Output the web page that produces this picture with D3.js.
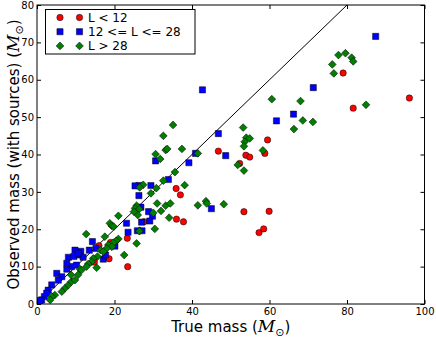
<html>
<head>
<style>
  body { margin: 0; background: #fff; }
  text { font-family: "DejaVu Sans", sans-serif; }
</style>
</head>
<body>
<svg id="chart" width="436" height="338"></svg>
<script src="https://cdn.jsdelivr.net/npm/d3@7"></script>
<script>
// series: [true mass, observed mass]
const lowL = [
  [96.1,55.1],[81.6,52.4],[79.0,61.8],[59.5,43.9],[58.8,40.3],[53.9,39.8],[54.9,39.3],
  [52.3,37.6],[53.4,24.7],[59.9,24.8],[57.3,19.1],[58.5,20.1],[46.8,40.9],[35.9,30.9],
  [37.0,29.2],[36.0,22.7],[37.8,22.0],[27.6,22.0],[23.3,17.6],[23.4,10.0],[19.0,16.5],
  [16.0,15.6],[14.8,11.2],[18.6,12.1]
]
const midL = [
  [87.4,71.6],[71.3,57.9],[66.2,50.8],[61.8,49.0],[48.7,39.7],[42.7,57.3],[46.8,45.6],
  [45.0,25.5],[40.9,40.3],[30.6,38.3],[39.2,37.8],[33.9,33.3],[29.4,31.7],[28.8,24.7],
  [29.8,23.5],[26.3,29.0],[26.8,25.9],[29.1,22.2],[27.0,21.9],[27.1,19.6],[26.3,31.7],
  [25.3,31.6],[23.1,21.6],[25.9,19.6],[23.5,19.2],[14.3,16.7],[20.1,15.5],[15.2,14.9],
  [13.5,14.4],[11.3,14.1],[9.8,14.4],[8.1,12.5],[9.5,12.7],[10.9,13.1],[11.9,12.5],
  [17.1,12.0],[17.7,13.1],[8.9,10.0],[10.2,10.4],[7.7,9.3],[7.7,10.9],[5.1,8.2],
  [6.4,7.3],[5.5,6.4],[3.8,5.1],[2.9,3.7],[2.5,2.9],[1.9,2.0],[1.2,1.1],[0.8,0.9],
  [10.6,13.6]
]
const highL = [
  [77.8,66.6],[79.6,67.1],[81.2,65.9],[81.6,64.9],[76.2,64.1],[76.6,61.7],[84.9,53.3],
  [68.0,54.3],[68.6,49.1],[71.2,48.7],[66.3,46.8],[60.6,54.8],[53.2,47.2],[54.0,44.5],
  [54.9,44.3],[53.6,43.4],[53.4,42.2],[58.3,41.1],[51.8,37.2],[53.4,35.7],[48.2,26.7],
  [35.1,47.9],[32.6,45.0],[30.6,40.1],[31.8,38.8],[33.2,41.2],[33.6,41.5],[37.4,41.5],
  [41.5,40.3],[35.6,35.3],[32.6,33.0],[30.8,31.0],[38.1,31.8],[29.4,29.6],[31.0,26.9],
  [33.2,26.3],[34.4,26.9],[32.0,24.9],[41.5,26.4],[43.6,27.5],[43.8,26.9],[34.1,23.1],
  [27.4,31.9],[26.5,31.2],[30.0,24.4],[30.4,20.1],[26.5,19.6],[25.7,26.3],[25.3,25.6],
  [26.4,25.4],[21.0,23.6],[26.0,23.8],[25.0,24.7],[18.8,21.6],[19.3,20.9],[19.8,20.7],
  [26.4,19.5],[25.7,16.2],[12.7,18.7],[17.5,18.0],[21.0,17.4],[20.4,16.9],[19.7,16.4],
  [18.4,15.8],[19.3,15.3],[18.0,14.9],[16.4,14.4],[17.1,14.0],[15.6,12.7],[14.5,12.2],
  [14.1,11.3],[13.2,10.7],[22.5,13.1],[15.4,9.7],[12.8,10.0],[11.1,9.3],[7.2,4.2],
  [6.4,3.3],[8.1,5.1],[8.9,6.0],[9.8,6.4],[10.6,7.8],[11.5,9.1],[8.8,7.8],[4.6,2.4],
  [3.8,2.0],[3.4,1.1]
]
const legendLabels = ["L < 12", "12 <= L <= 28", "L > 28"]
const xTicks = [0, 20, 40, 60, 80, 100]
const yTicks = [0, 10, 20, 30, 40, 50, 60, 70, 80]
const diagonal = [[0, 0], [80, 80]]

let svg = d3.select("#chart")
let pLeft = 37, pTop = 5, pRight = 424.5, pBottom = 304

let x = d3.scaleLinear().domain([0, 100]).range([pLeft, pRight])
let y = d3.scaleLinear().domain([0, 80]).range([pBottom, pTop])

svg.append("defs").append("clipPath").attr("id", "clip")
  .append("rect").attr("x", pLeft).attr("y", pTop)
  .attr("width", pRight - pLeft).attr("height", pBottom - pTop)

let plot = svg.append("g").attr("clip-path", "url(#clip)")

plot.append("path")
  .attr("d", d3.line().x(d => x(d[0])).y(d => y(d[1]))(diagonal))
  .attr("stroke", "#000").attr("stroke-width", 1).attr("fill", "none")

const symbols = [
  { data: lowL, color: "#ff0000", shape: d3.symbolCircle, size: 32, rot: 0 },
  { data: midL, color: "#0000ff", shape: d3.symbolSquare, size: 38, rot: 0 },
  { data: highL, color: "#008000", shape: d3.symbolSquare, size: 30, rot: 45 }
]

function drawMarkers(g, s, pts) {
  g.selectAll(null).data(pts).enter().append("path")
    .attr("d", d3.symbol().type(s.shape).size(s.size)())
    .attr("transform", d => `translate(${d[0]},${d[1]}) rotate(${s.rot})`)
    .attr("fill", s.color)
    .attr("stroke", "#000").attr("stroke-width", 0.5)
}

for (let s of symbols) {
  drawMarkers(plot.append("g"), s, s.data.map(d => [x(d[0]), y(d[1])]))
}

// frame and inward ticks
let axes = svg.append("g")
axes.append("rect")
  .attr("x", pLeft).attr("y", pTop).attr("width", pRight - pLeft).attr("height", pBottom - pTop)
  .attr("fill", "none").attr("stroke", "#000").attr("stroke-width", 1)

axes.append("g").attr("transform", `translate(0,${pBottom})`)
  .call(d3.axisBottom(x).tickValues(xTicks).tickSizeInner(-4).tickSizeOuter(0).tickPadding(4))
axes.append("g").attr("transform", `translate(0,${pTop})`)
  .call(d3.axisTop(x).tickValues(xTicks).tickSizeInner(-4).tickSizeOuter(0).tickFormat(""))
axes.append("g").attr("transform", `translate(${pLeft},0)`)
  .call(d3.axisLeft(y).tickValues(yTicks).tickSizeInner(-4).tickSizeOuter(0).tickPadding(3))
axes.append("g").attr("transform", `translate(${pRight},0)`)
  .call(d3.axisRight(y).tickValues(yTicks).tickSizeInner(-4).tickSizeOuter(0).tickFormat(""))

axes.selectAll(".domain").remove()
axes.selectAll(".tick text").attr("font-size", 10).attr("fill", "#000")
  .attr("font-family", "DejaVu Sans")

// axis labels
function massLabel(t, prefix) {
  t.append("tspan").text(prefix)
  t.append("tspan").attr("font-family", "DejaVu Serif").attr("font-style", "italic")
    .attr("font-size", 17).text("M")
  t.append("tspan").attr("font-size", 11).attr("dy", 4).text("\u2299")
  t.append("tspan").attr("dy", -4).text(")")
}

let xl = svg.append("text").attr("x", (pLeft + pRight) / 2).attr("y", 332)
  .attr("text-anchor", "middle").attr("font-size", 15)
massLabel(xl, "True mass (")

let yl = svg.append("text")
  .attr("transform", `translate(19,${(pTop + pBottom) / 2}) rotate(-90)`)
  .attr("text-anchor", "middle").attr("font-size", 15)
massLabel(yl, "Observed mass (with sources) (")

// legend
let lg = svg.append("g")
lg.append("rect").attr("x", 45.5).attr("y", 9.5).attr("width", 149.5).attr("height", 44.5)
  .attr("fill", "#fff").attr("stroke", "#000").attr("stroke-width", 1)
legendLabels.forEach((label, i) => {
  let ly = 17.5 + i * 14.2
  drawMarkers(lg.append("g"), symbols[i], [[60, ly], [79.5, ly]])
  lg.append("text").attr("x", 88).attr("y", ly).attr("dy", "0.35em")
    .attr("font-size", 12).text(label)
})
</script>
</body>
</html>
